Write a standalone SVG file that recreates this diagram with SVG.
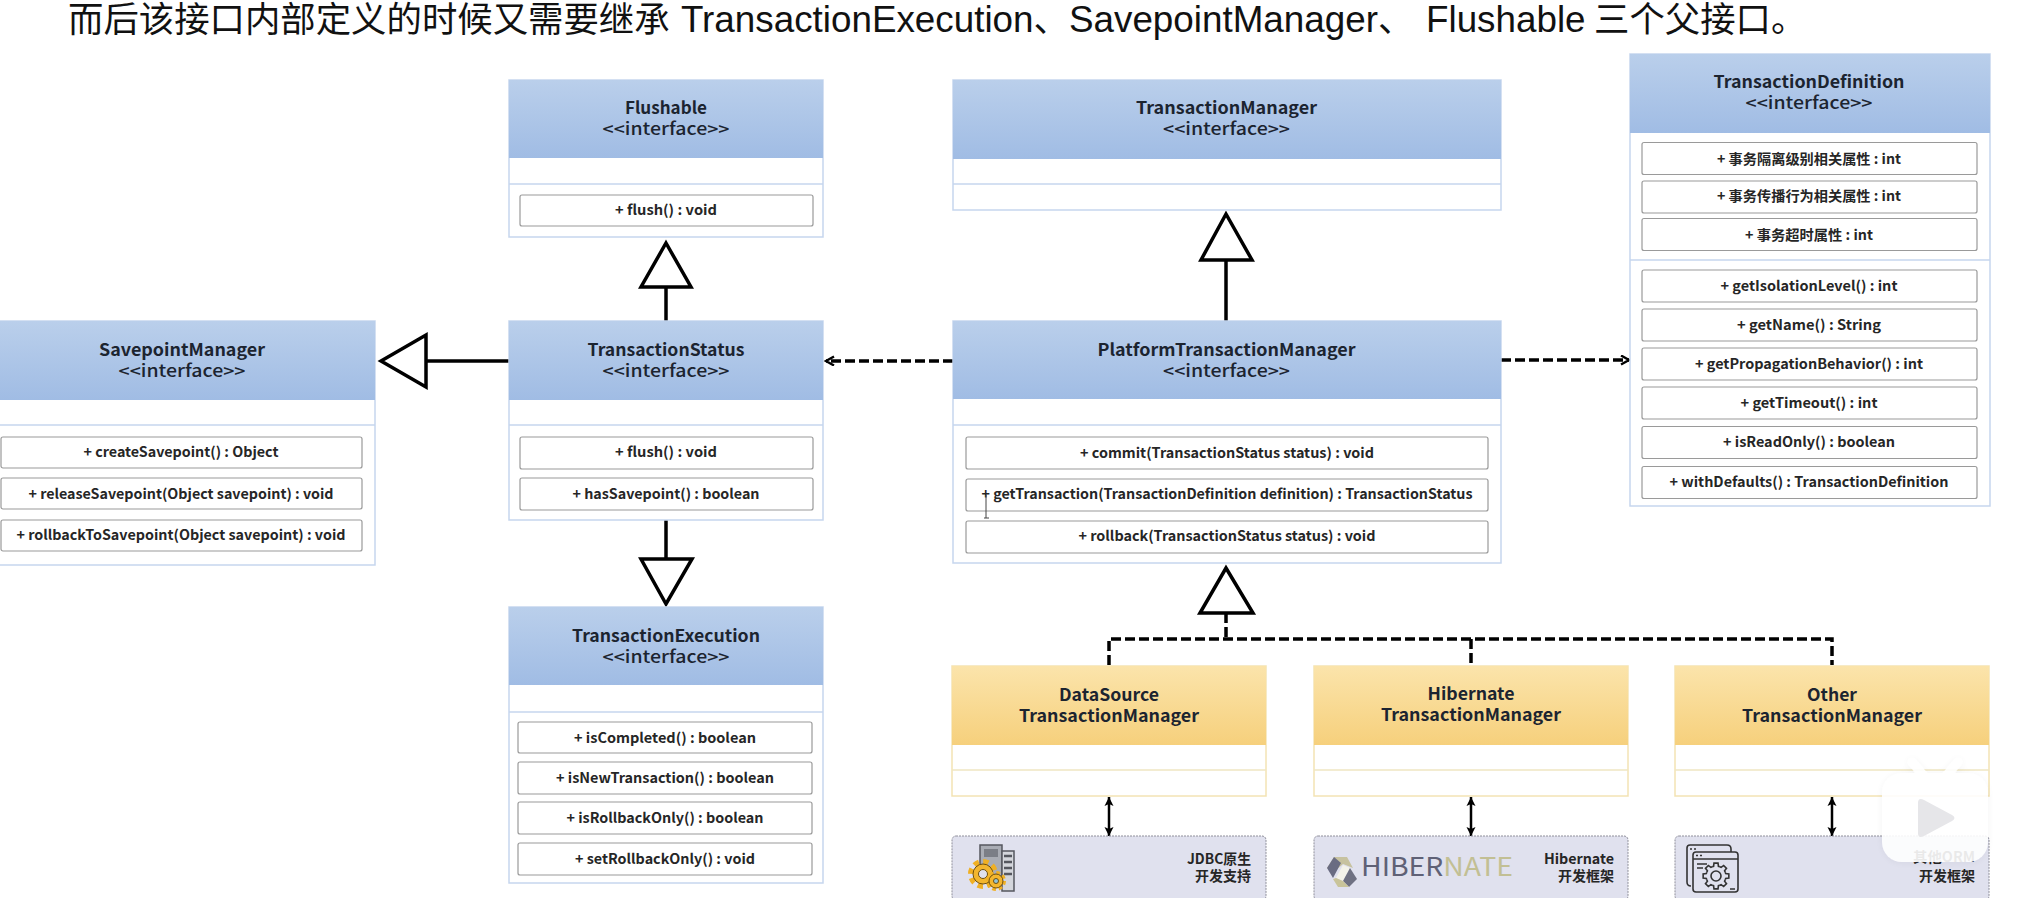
<svg xmlns="http://www.w3.org/2000/svg" width="2018" height="898" viewBox="0 0 2018 898">
<style>
text{font-family:"Noto Sans CJK SC","Liberation Sans",sans-serif;fill:#111;text-anchor:middle}
.t{font-size:17px;font-weight:700;fill:#1c2430}
.s{font-size:17px;font-weight:500;fill:#1c2430}
.m{font-size:14px;font-weight:700;fill:#262626}
.r{font-size:14px;font-weight:700;text-anchor:end;fill:#262626}
.title{font-family:"Liberation Sans","Noto Sans CJK SC",sans-serif;font-size:35.400px;font-weight:400;text-anchor:start}
.lat{font-size:36.800px}
.b{fill:#fff;stroke:#c6d6ee;stroke-width:1.5}
.y{fill:#fff;stroke:#f3e3b4;stroke-width:1.5}
.hb{fill:url(#blue)}
.hy{fill:url(#yellow)}
.dv{stroke:#c6d6ee;stroke-width:1.5}
.dy{stroke:#efe6c2;stroke-width:1.5}
.mb{fill:#fff;stroke:#9a9a9a;stroke-width:1.2}
.g{fill:#e0e1ee;stroke:#8f8f9a;stroke-width:1;stroke-dasharray:2 1}
.solid{fill:none;stroke:#000;stroke-width:3.5}
.tri{fill:#fff;stroke:#000;stroke-width:3.5;stroke-linejoin:miter}
.dash{fill:none;stroke:#000;stroke-width:3.5;stroke-dasharray:10 4}
.dbl{stroke:#000;stroke-width:2.5;fill:none}
.ic{fill:none;stroke:#333;stroke-width:1.6}
</style>
<defs>
<linearGradient id="blue" x1="0" y1="0" x2="0" y2="1"><stop offset="0" stop-color="#bacfeb"/><stop offset="1" stop-color="#a0bce4"/></linearGradient>
<linearGradient id="yellow" x1="0" y1="0" x2="0" y2="1"><stop offset="0" stop-color="#fbe4ab"/><stop offset="1" stop-color="#f6d07c"/></linearGradient>
<marker id="ah" markerWidth="10" markerHeight="10" refX="9" refY="5" orient="auto-start-reverse" markerUnits="userSpaceOnUse"><path d="M0 0.5L9 5L0 9.500L2 5Z" fill="#000"/></marker>
<marker id="open" markerWidth="12" markerHeight="12" refX="9" refY="5" orient="auto" markerUnits="userSpaceOnUse"><path d="M1 0.5L9 5L1 9.5" fill="none" stroke="#000" stroke-width="2.4"/></marker>
<path id="tooth" d="M9.24 -3.83L9.7 -2.42L12.84 -2.03V2.03L9.7 2.42L9.24 3.83" fill="none" stroke="#333" stroke-width="1.6"/>
<filter id="soft" x="-20%" y="-20%" width="140%" height="140%"><feDropShadow dx="0" dy="1" stdDeviation="4" flood-color="#000" flood-opacity=".05"/></filter>
</defs>
<rect width="2018" height="898" fill="#fff"/>
<text class="title" x="68" y="32">而后该接口内部定义的时候又需要继承 <tspan class="lat" x="681">TransactionExecution</tspan>、<tspan class="lat" x="1069">SavepointManager</tspan>、<tspan class="lat" x="1426">Flushable</tspan> <tspan x="1594">三个父接口。</tspan></text>

<g id="connectors">
<path class="solid" d="M666 321V287"/><path class="tri" d="M666 243L691 287H641Z"/>
<path class="solid" d="M509 361H426"/><path class="tri" d="M381 361L426 335V387Z"/>
<path class="solid" d="M666 520V559"/><path class="tri" d="M666 604L641 559H692Z"/>
<path class="solid" d="M1226 321V260"/><path class="tri" d="M1226 214L1252 260H1201Z"/>
<path class="dash" d="M953 361H826" marker-end="url(#open)"/>
<path class="dash" d="M1501 360H1629" marker-end="url(#open)"/>
<path class="tri" d="M1226 568L1253 613H1200Z"/>
<path class="dash" d="M1226 613V639M1109 665V639H1832V665M1471 639V665"/>
<path class="dbl" d="M1109 797V836" marker-start="url(#ah)" marker-end="url(#ah)"/>
<path class="dbl" d="M1471 797V836" marker-start="url(#ah)" marker-end="url(#ah)"/>
<path class="dbl" d="M1832 797V836" marker-start="url(#ah)" marker-end="url(#ah)"/>
</g>

<g id="Flushable">
<rect class="b" x="509" y="80" width="314" height="157"/><rect class="hb" x="509" y="80" width="314" height="78"/>
<line class="dv" x1="509" y1="184" x2="823" y2="184"/>
<text class="t" x="666" y="114" textLength="82" lengthAdjust="spacingAndGlyphs">Flushable</text>
<text class="s" x="666" y="135" textLength="127" lengthAdjust="spacingAndGlyphs">&lt;&lt;interface&gt;&gt;</text>
<rect class="mb" x="520" y="195" width="293" height="31" rx="2"/>
<text class="m" x="666" y="215" textLength="102" lengthAdjust="spacingAndGlyphs">+ flush() : void</text>
</g>

<g id="SavepointManager">
<rect class="b" x="-12" y="321" width="387" height="244"/><rect class="hb" x="-12" y="321" width="387" height="79"/>
<line class="dv" x1="-12" y1="425" x2="375" y2="425"/>
<text class="t" x="182" y="356" textLength="166" lengthAdjust="spacingAndGlyphs">SavepointManager</text>
<text class="s" x="182" y="377" textLength="127" lengthAdjust="spacingAndGlyphs">&lt;&lt;interface&gt;&gt;</text>
<rect class="mb" x="1" y="437" width="361" height="31" rx="2"/>
<text class="m" x="181" y="457" textLength="195" lengthAdjust="spacingAndGlyphs">+ createSavepoint() : Object</text>
<rect class="mb" x="1" y="478" width="361" height="31" rx="2"/>
<text class="m" x="181" y="499" textLength="305" lengthAdjust="spacingAndGlyphs">+ releaseSavepoint(Object savepoint) : void</text>
<rect class="mb" x="1" y="520" width="361" height="31" rx="2"/>
<text class="m" x="181" y="540" textLength="329" lengthAdjust="spacingAndGlyphs">+ rollbackToSavepoint(Object savepoint) : void</text>
</g>

<g id="TransactionStatus">
<rect class="b" x="509" y="321" width="314" height="199"/><rect class="hb" x="509" y="321" width="314" height="79"/>
<line class="dv" x1="509" y1="425" x2="823" y2="425"/>
<text class="t" x="666" y="356" textLength="157" lengthAdjust="spacingAndGlyphs">TransactionStatus</text>
<text class="s" x="666" y="377" textLength="127" lengthAdjust="spacingAndGlyphs">&lt;&lt;interface&gt;&gt;</text>
<rect class="mb" x="520" y="437" width="293" height="32" rx="2"/>
<text class="m" x="666" y="457" textLength="102" lengthAdjust="spacingAndGlyphs">+ flush() : void</text>
<rect class="mb" x="520" y="478" width="293" height="32" rx="2"/>
<text class="m" x="666" y="499" textLength="187" lengthAdjust="spacingAndGlyphs">+ hasSavepoint() : boolean</text>
</g>

<g id="TransactionExecution">
<rect class="b" x="509" y="607" width="314" height="276"/><rect class="hb" x="509" y="607" width="314" height="78"/>
<line class="dv" x1="509" y1="712" x2="823" y2="712"/>
<text class="t" x="666" y="642" textLength="188" lengthAdjust="spacingAndGlyphs">TransactionExecution</text>
<text class="s" x="666" y="663" textLength="127" lengthAdjust="spacingAndGlyphs">&lt;&lt;interface&gt;&gt;</text>
<rect class="mb" x="518" y="722" width="294" height="31" rx="2"/>
<text class="m" x="665" y="743" textLength="182" lengthAdjust="spacingAndGlyphs">+ isCompleted() : boolean</text>
<rect class="mb" x="518" y="762" width="294" height="32" rx="2"/>
<text class="m" x="665" y="783" textLength="218" lengthAdjust="spacingAndGlyphs">+ isNewTransaction() : boolean</text>
<rect class="mb" x="518" y="802" width="294" height="32" rx="2"/>
<text class="m" x="665" y="823" textLength="197" lengthAdjust="spacingAndGlyphs">+ isRollbackOnly() : boolean</text>
<rect class="mb" x="518" y="843" width="294" height="32" rx="2"/>
<text class="m" x="665" y="864" textLength="180" lengthAdjust="spacingAndGlyphs">+ setRollbackOnly() : void</text>
</g>

<g id="TransactionManager">
<rect class="b" x="953" y="80" width="548" height="130"/><rect class="hb" x="953" y="80" width="548" height="79"/>
<line class="dv" x1="953" y1="184" x2="1501" y2="184"/>
<text class="t" x="1226.500" y="114" textLength="181" lengthAdjust="spacingAndGlyphs">TransactionManager</text>
<text class="s" x="1226.500" y="135" textLength="127" lengthAdjust="spacingAndGlyphs">&lt;&lt;interface&gt;&gt;</text>
</g>

<g id="PlatformTransactionManager">
<rect class="b" x="953" y="321" width="548" height="242"/><rect class="hb" x="953" y="321" width="548" height="78"/>
<line class="dv" x1="953" y1="425" x2="1501" y2="425"/>
<text class="t" x="1226.500" y="356" textLength="258" lengthAdjust="spacingAndGlyphs">PlatformTransactionManager</text>
<text class="s" x="1226.500" y="377" textLength="127" lengthAdjust="spacingAndGlyphs">&lt;&lt;interface&gt;&gt;</text>
<rect class="mb" x="966" y="437" width="522" height="32" rx="2"/>
<text class="m" x="1227" y="458" textLength="294" lengthAdjust="spacingAndGlyphs">+ commit(TransactionStatus status) : void</text>
<rect class="mb" x="966" y="479" width="522" height="32" rx="2"/>
<text class="m" x="1227" y="499" textLength="491" lengthAdjust="spacingAndGlyphs">+ getTransaction(TransactionDefinition definition) : TransactionStatus</text>
<rect class="mb" x="966" y="521" width="522" height="32" rx="2"/>
<text class="m" x="1227" y="541" textLength="297" lengthAdjust="spacingAndGlyphs">+ rollback(TransactionStatus status) : void</text>
<path d="M986 495V518M984 518H989" fill="none" stroke="#444" stroke-width="1"/>
</g>

<g id="TransactionDefinition">
<rect class="b" x="1630" y="54" width="360" height="452"/><rect class="hb" x="1630" y="54" width="360" height="79"/>
<line class="dv" x1="1630" y1="260" x2="1990" y2="260"/>
<text class="t" x="1809" y="88" textLength="191" lengthAdjust="spacingAndGlyphs">TransactionDefinition</text>
<text class="s" x="1809" y="109" textLength="127" lengthAdjust="spacingAndGlyphs">&lt;&lt;interface&gt;&gt;</text>
<rect class="mb" x="1642" y="142.500" width="335" height="32" rx="2"/>
<text class="m" x="1809" y="164" textLength="184" lengthAdjust="spacingAndGlyphs">+ 事务隔离级别相关属性 : int</text>
<rect class="mb" x="1642" y="181" width="335" height="32" rx="2"/>
<text class="m" x="1809" y="201" textLength="184" lengthAdjust="spacingAndGlyphs">+ 事务传播行为相关属性 : int</text>
<rect class="mb" x="1642" y="218.500" width="335" height="32" rx="2"/>
<text class="m" x="1809" y="240" textLength="128" lengthAdjust="spacingAndGlyphs">+ 事务超时属性 : int</text>
<rect class="mb" x="1642" y="270" width="335" height="32" rx="2"/>
<text class="m" x="1809" y="291" textLength="177" lengthAdjust="spacingAndGlyphs">+ getIsolationLevel() : int</text>
<rect class="mb" x="1642" y="309" width="335" height="32" rx="2"/>
<text class="m" x="1809" y="330" textLength="144" lengthAdjust="spacingAndGlyphs">+ getName() : String</text>
<rect class="mb" x="1642" y="348" width="335" height="32" rx="2"/>
<text class="m" x="1809" y="369" textLength="228" lengthAdjust="spacingAndGlyphs">+ getPropagationBehavior() : int</text>
<rect class="mb" x="1642" y="387" width="335" height="32" rx="2"/>
<text class="m" x="1809" y="408" textLength="137" lengthAdjust="spacingAndGlyphs">+ getTimeout() : int</text>
<rect class="mb" x="1642" y="426.500" width="335" height="32" rx="2"/>
<text class="m" x="1809" y="447" textLength="172" lengthAdjust="spacingAndGlyphs">+ isReadOnly() : boolean</text>
<rect class="mb" x="1642" y="466.500" width="335" height="32" rx="2"/>
<text class="m" x="1809" y="487" textLength="279" lengthAdjust="spacingAndGlyphs">+ withDefaults() : TransactionDefinition</text>
</g>

<g id="DataSourceTransactionManager">
<rect class="y" x="952" y="666" width="314" height="130"/><rect class="hy" x="952" y="666" width="314" height="79"/>
<line class="dy" x1="952" y1="770" x2="1266" y2="770"/>
<text class="t" x="1109" y="701" textLength="100" lengthAdjust="spacingAndGlyphs">DataSource</text>
<text class="t" x="1109" y="722" textLength="180" lengthAdjust="spacingAndGlyphs">TransactionManager</text>
</g>
<g id="HibernateTransactionManager">
<rect class="y" x="1314" y="666" width="314" height="130"/><rect class="hy" x="1314" y="666" width="314" height="79"/>
<line class="dy" x1="1314" y1="770" x2="1628" y2="770"/>
<text class="t" x="1471" y="700" textLength="87" lengthAdjust="spacingAndGlyphs">Hibernate</text>
<text class="t" x="1471" y="721" textLength="180" lengthAdjust="spacingAndGlyphs">TransactionManager</text>
</g>
<g id="OtherTransactionManager">
<rect class="y" x="1675" y="666" width="314" height="130"/><rect class="hy" x="1675" y="666" width="314" height="79"/>
<line class="dy" x1="1675" y1="770" x2="1989" y2="770"/>
<text class="t" x="1832" y="701" textLength="50" lengthAdjust="spacingAndGlyphs">Other</text>
<text class="t" x="1832" y="722" textLength="180" lengthAdjust="spacingAndGlyphs">TransactionManager</text>
</g>

<g id="JDBC">
<rect class="g" x="952" y="836" width="314" height="64" rx="4"/>
<rect x="980" y="845" width="22" height="36" fill="#a9acb4" stroke="#55575f" stroke-width="1.500"/>
<rect x="984" y="849" width="14" height="8" fill="#7b7e86"/>
<rect x="1002" y="851" width="12" height="40" fill="#d4d6dc" stroke="#55575f" stroke-width="1.500"/>
<path d="M1004 856H1012M1004 862H1012M1004 868H1012M1004 874H1012" stroke="#55575f" stroke-width="2.500"/>
<circle cx="983" cy="874" r="11.500" fill="none" stroke="#f0b024" stroke-width="7" stroke-dasharray="5 4"/>
<circle cx="983" cy="874" r="10" fill="#f3b62e" stroke="#6d4f10" stroke-width="1"/>
<circle cx="983" cy="874" r="4.500" fill="#e0e1ee" stroke="#6d4f10"/>
<circle cx="996" cy="881" r="8" fill="none" stroke="#f0b024" stroke-width="4" stroke-dasharray="3.500 2.800"/>
<circle cx="996" cy="881" r="7" fill="#f3b62e" stroke="#6d4f10"/>
<circle cx="996" cy="881" r="2.500" fill="#8fc3d8" stroke="#6d4f10"/>
<text class="r" x="1251" y="864" textLength="64" lengthAdjust="spacingAndGlyphs">JDBC原生</text>
<text class="r" x="1251" y="881" textLength="56" lengthAdjust="spacingAndGlyphs">开发支持</text>
</g>

<g id="Hibernate">
<rect class="g" x="1314" y="836" width="314" height="64" rx="4"/>
<path d="M1334 857H1347L1353 868L1343 864L1335 871L1327 868Z" fill="#c7c2a0"/>
<path d="M1334 857L1327 868L1333 878L1341 863Z" fill="#6a6c82"/>
<path d="M1343 865L1350 868L1343 881L1336 878Z" fill="#f4f3ea"/>
<path d="M1350 868L1357 879L1349 887L1343 881Z" fill="#6f7182"/>
<path d="M1336 878L1343 881L1349 887H1338L1333 879Z" fill="#c9c49a"/>
<text x="1361" y="876" font-size="26" font-weight="400" style="text-anchor:start;fill:#5f6176" textLength="152" lengthAdjust="spacingAndGlyphs">HIBER<tspan style="fill:#c2bf94">NATE</tspan></text>
<text class="r" x="1614" y="864" textLength="70" lengthAdjust="spacingAndGlyphs">Hibernate</text>
<text class="r" x="1614" y="881" textLength="56" lengthAdjust="spacingAndGlyphs">开发框架</text>
</g>

<g id="OtherORM">
<rect class="g" x="1675" y="836" width="314" height="64" rx="4"/>
<path class="ic" d="M1691 886Q1687 886 1687 882V848Q1687 845 1690 845H1727Q1731 845 1731 849V852"/>
<rect class="ic" x="1693" y="852" width="45" height="40" rx="3"/>
<path class="ic" d="M1693 859H1738M1697 864H1707M1697 868H1703M1730 889H1735M1690 849H1692M1694 849H1696M1696 855.500H1698M1700 855.500H1702"/>
<circle class="ic" cx="1716" cy="876" r="5"/>
<g transform="translate(1716 876)"><use href="#tooth"/><use href="#tooth" transform="rotate(45)"/><use href="#tooth" transform="rotate(90)"/><use href="#tooth" transform="rotate(135)"/><use href="#tooth" transform="rotate(180)"/><use href="#tooth" transform="rotate(225)"/><use href="#tooth" transform="rotate(270)"/><use href="#tooth" transform="rotate(315)"/></g>
<text class="r" x="1975" y="862" textLength="62" lengthAdjust="spacingAndGlyphs">其他ORM</text>
<text class="r" x="1975" y="881" textLength="56" lengthAdjust="spacingAndGlyphs">开发框架</text>
</g>

<g opacity=".9" filter="url(#soft)">
<path d="M1912 762L1924 776M1958 762L1946 776" stroke="#fff" stroke-width="9" stroke-linecap="round"/>
<rect x="1882" y="773" width="106" height="89" rx="20" fill="#fff"/>
</g>
<path d="M1918 803Q1918 797 1924 800L1952 815Q1957 818 1952 821L1924 836Q1918 839 1918 833Z" fill="#e6e6e9"/>
</svg>
